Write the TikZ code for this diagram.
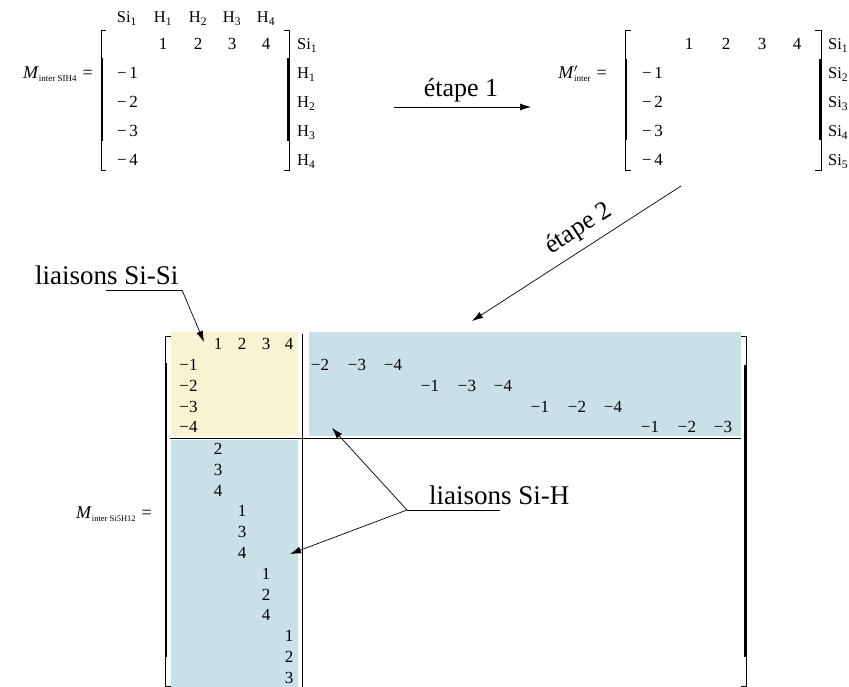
\documentclass[tikz,border=0pt]{standalone}
\usepackage{fontspec}
\setmainfont{Liberation Serif}
\usetikzlibrary{arrows.meta}
\definecolor{paleyellow}{HTML}{F8F3D1}
\definecolor{paleblue}{HTML}{C8E0E6}
\newcommand{\msub}[1]{\raisebox{-3pt}{\fontsize{9}{9}\selectfont #1}}
\begin{document}
\begin{tikzpicture}[x=1pt,y=-1pt,
  ent/.style={font=\fontsize{17}{17}\selectfont, inner sep=0pt, anchor=base},
  lab/.style={font=\fontsize{16.5}{17}\selectfont, inner sep=0pt, anchor=base west},
  hdr/.style={font=\fontsize{16.5}{17}\selectfont, inner sep=0pt, anchor=base},
  mlab/.style={font=\fontsize{18}{18}\selectfont, inner sep=0pt, anchor=base east},
  big/.style={font=\fontsize{27}{28}\selectfont, inner sep=0pt},
  thinl/.style={line width=0.7pt},
  thickl/.style={line width=2.6pt},
  arr/.style={line width=0.7pt, -{Latex[length=11pt,width=7pt]}},
  conn/.style={line width=0.7pt}]
\useasboundingbox (0,0) rectangle (849,687);
\fill[white] (0,0) rectangle (849,687);

% ---------- top-left matrix ----------
\node[mlab] (mA) at (93,79) {\textit{M}\msub{inter SIH4}\,\,=};
\draw[thinl] (106,30) -- (101,30) -- (101,170) -- (106,170);
\draw[thickl] (102,58) -- (102,141);
\draw[thinl] (284,30) -- (289,30) -- (289,170) -- (284,170);
\draw[thickl] (288,58) -- (288,141);
\node[hdr] (hA0) at (127,23) {Si\textsubscript{1}};
\foreach \i/\x in {1/163,2/198,3/232,4/266}{
  \node[hdr] (hA\i) at (\x,23) {H\textsubscript{\i}};
  \node[ent] (rA\i) at (\x,50) {\i};
}
\foreach \i/\y in {1/79,2/108,3/137,4/166}{
  \node[ent] (cA\i) at (127.5,\y) {−\kern2.5pt\i};
  \node[lab] (lA\i) at (297,\y) {H\textsubscript{\i}};
}
\node[lab] (lA0) at (297,50) {Si\textsubscript{1}};

% ---------- step 1 ----------
\coordinate (e1s) at (394,107);
\coordinate (e1e) at (531,107);
\draw[arr] (e1s) -- (e1e);
\node[big, anchor=base, font=\fontsize{26}{28}\selectfont] (t1) at (461,97) {étape 1};

% ---------- top-right matrix ----------
\node[mlab] (mB) at (607,79) {\textit{M}\rlap{$^{\prime}$}\msub{inter}\,\,=};
\draw[thinl] (631,30) -- (625,30) -- (625,170) -- (631,170);
\draw[thickl] (626,59) -- (626,140);
\draw[thinl] (815,30) -- (821,30) -- (821,170) -- (815,170);
\draw[thickl] (820,59) -- (820,140);
\foreach \i/\x in {1/689,2/726,3/762,4/797}{
  \node[ent] (rB\i) at (\x,50) {\i};
}
\foreach \i/\y in {1/79,2/108,3/137,4/166}{
  \node[ent] (cB\i) at (652.5,\y) {−\kern2.5pt\i};
}
\foreach \i/\y in {1/50,2/79,3/108,4/137,5/166}{
  \node[lab] (lB\i) at (828,\y) {Si\textsubscript{\i}};
}

% ---------- step 2 ----------
\coordinate (e2s) at (681,186);
\coordinate (e2e) at (472,321);
\draw[arr] (e2s) -- (e2e);
\node[big, rotate=32.7, font=\fontsize{26}{28}\selectfont] (t2) at (579,229) {étape 2};

% ---------- big matrix ----------
\fill[paleyellow] (171,332) rectangle (298,436);
\fill[paleblue] (309,332) rectangle (741,436);
\fill[paleblue] (171,440) rectangle (298,687);
\draw[line width=0.9pt] (302,334) -- (302,687);
\draw[line width=0.9pt] (170,438) -- (741,438);
\draw[thinl] (171,336) -- (165,336) -- (165,686) -- (171,686);
\draw[thickl] (166,363) -- (166,657);
\draw[thinl] (741,336) -- (746,336) -- (746,686) -- (741,686);
\draw[thickl] (745,365) -- (745,657);
\node[mlab] (mC) at (152,518) {\textit{M}\msub{\fontsize{8.5}{9}\selectfont inter Si5H12}\,\,=};

\foreach \i/\x in {1/218,2/242,3/266,4/289}{
  \node[ent] (rC\i) at (\x,349) {\i};
}
\foreach \i/\y in {1/370,2/391,3/412,4/432}{
  \node[ent] (cC\i) at (188.5,\y) {−\i};
}
% top-right block
\foreach \v/\x/\y in {2/320/370,3/357/370,4/393/370,
                      1/430/391,3/467/391,4/503/391,
                      1/540/412,2/577/412,4/613/412,
                      1/650/432,2/687/432,3/723/432}{
  \node[ent] at (\x,\y) {−\v};
}
% bottom-left block
\foreach \v/\x/\y in {2/218/454,3/218/475,4/218/496,
                      1/242/516.5,3/242/537,4/242/558,
                      1/266/579,2/266/600,4/266/620,
                      1/289/641,2/289/662,3/289/683}{
  \node[ent] at (\x,\y) {\v};
}

% ---------- annotations ----------
\node[big, anchor=base west] (ss) at (35,284) {liaisons Si-Si};
\coordinate (ssa) at (106,290);
\coordinate (ssb) at (182,290);
\coordinate (ssTip) at (204,342);
\draw[conn] (ssa) -- (ssb);
\draw[arr] (ssb) -- (ssTip);

\node[big, anchor=base west] (sh) at (429,504) {liaisons Si-H};
\coordinate (sha) at (407,510);
\coordinate (shb) at (500,510);
\coordinate (shTip1) at (332,428);
\coordinate (shTip2) at (290,554);
\draw[conn] (sha) -- (shb);
\draw[arr] (sha) -- (shTip1);
\draw[arr] (sha) -- (shTip2);
\end{tikzpicture}
\end{document}
